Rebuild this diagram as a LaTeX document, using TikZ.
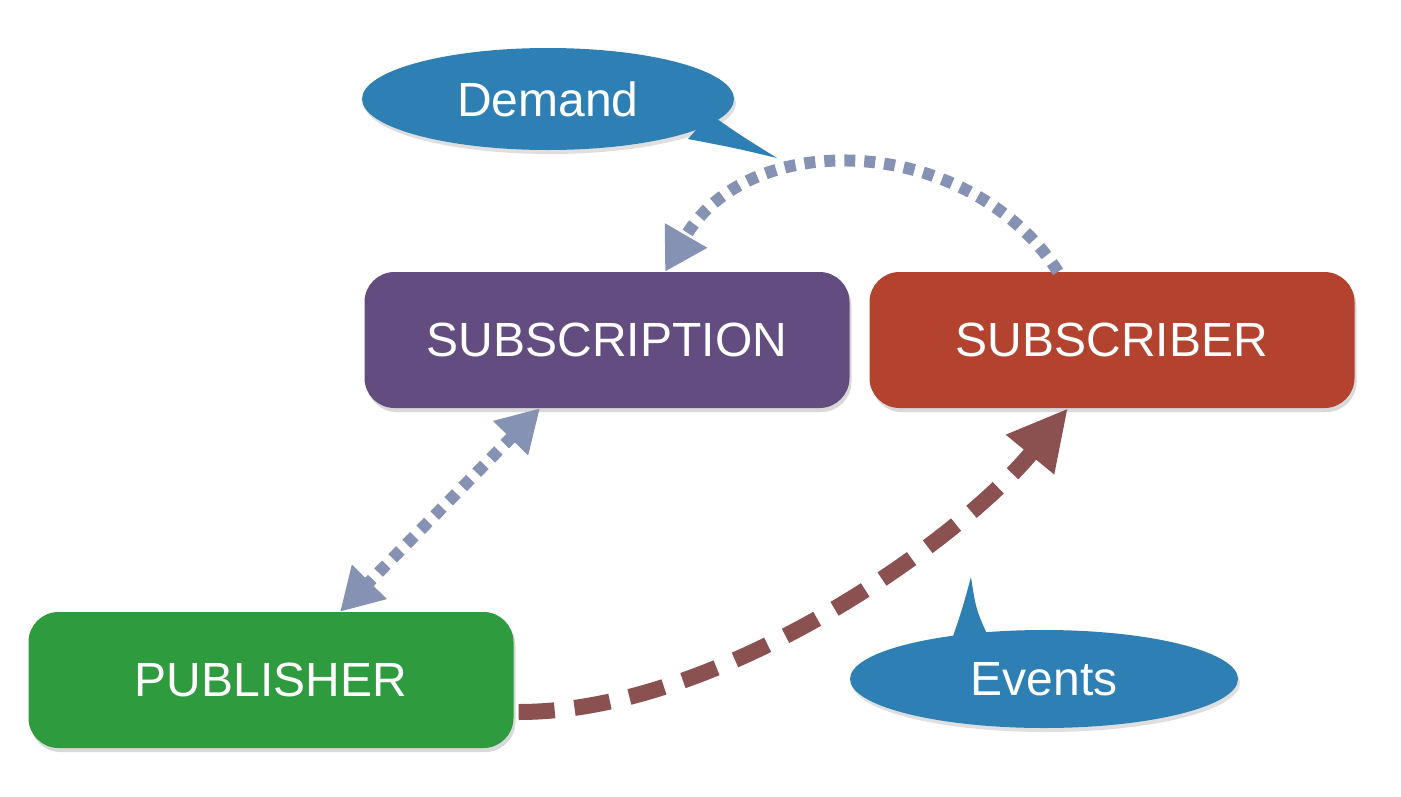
\documentclass[tikz,border=0pt]{standalone}
\usepackage{fontspec}
\setmainfont{Liberation Sans}
\usetikzlibrary{arrows.meta,shadows,shapes.geometric}
\definecolor{subpurple}{HTML}{634D80}
\definecolor{subred}{HTML}{B3432F}
\definecolor{pubgreen}{HTML}{2F9B3F}
\definecolor{bubblue}{HTML}{2E80B4}
\definecolor{dotgray}{HTML}{8592B3}
\definecolor{evbrown}{HTML}{8B5050}
\begin{document}
\begin{tikzpicture}[x=1pt,y=-1pt,
  boxnode/.style={rounded corners=30pt, minimum width=485pt, minimum height=136pt,
    inner sep=0pt, text=white, font=\fontsize{48}{56}\selectfont,
    drop shadow={opacity=0.3, shadow xshift=2pt, shadow yshift=-4pt}},
  bubble/.style={ellipse, fill=bubblue, inner sep=0pt, text=white,
    font=\fontsize{48}{56}\selectfont,
    drop shadow={opacity=0.25, shadow xshift=2pt, shadow yshift=-4pt}},
  dotarrow/.style={draw=dotgray, line width=12pt, dash pattern=on 11pt off 9pt,
    -{Triangle[length=42pt,width=46pt]}},
  dotboth/.style={draw=dotgray, line width=12pt, dash pattern=on 11pt off 9pt,
    {Triangle[length=42pt,width=46pt]}-{Triangle[length=42pt,width=46pt]}},
  evarrow/.style={draw=evbrown, line width=16pt, dash pattern=on 36pt off 20pt,
    -{Triangle[length=60pt,width=58pt]}}
]
\useasboundingbox (0,0) rectangle (1401,796);

\node[boxnode, fill=subpurple] (sp) at (607,340) {SUBSCRIPTION};
\node[boxnode, fill=subred] (sr) at (1112,340) {SUBSCRIBER};
\node[boxnode, fill=pubgreen] (pub) at (271,680) {PUBLISHER};

\node[bubble, minimum width=372pt, minimum height=102pt] (dem) at (548,99) {Demand};
\fill[bubblue] (710,114) .. controls (740,135) .. (777,158) .. controls (735,148) .. (688,139) -- cycle;

\node[bubble, minimum width=388pt, minimum height=98pt] (ev) at (1044,679) {Events};
\fill[bubblue] (950,645) .. controls (962,610) .. (971,577) .. controls (976,610) .. (992,645) -- cycle;

\coordinate (dS) at ([xshift=-54pt]sr.north);
\coordinate (dE) at ([xshift=58pt]sp.north);
\draw[dotarrow] (dS) .. controls (970,135) and (750,125) .. (dE);

\coordinate (bS) at ([xshift=-67pt]sp.south);
\coordinate (bE) at ([xshift=69pt]pub.north);
\draw[dotboth] (bS) -- (bE);

\coordinate (eS) at ([yshift=-32pt,xshift=5pt]pub.east);
\coordinate (eE) at ([xshift=-44pt]sr.south);
\draw[evarrow] (eS) .. controls (720,712) and (960,540) .. (eE);
\end{tikzpicture}
\end{document}
